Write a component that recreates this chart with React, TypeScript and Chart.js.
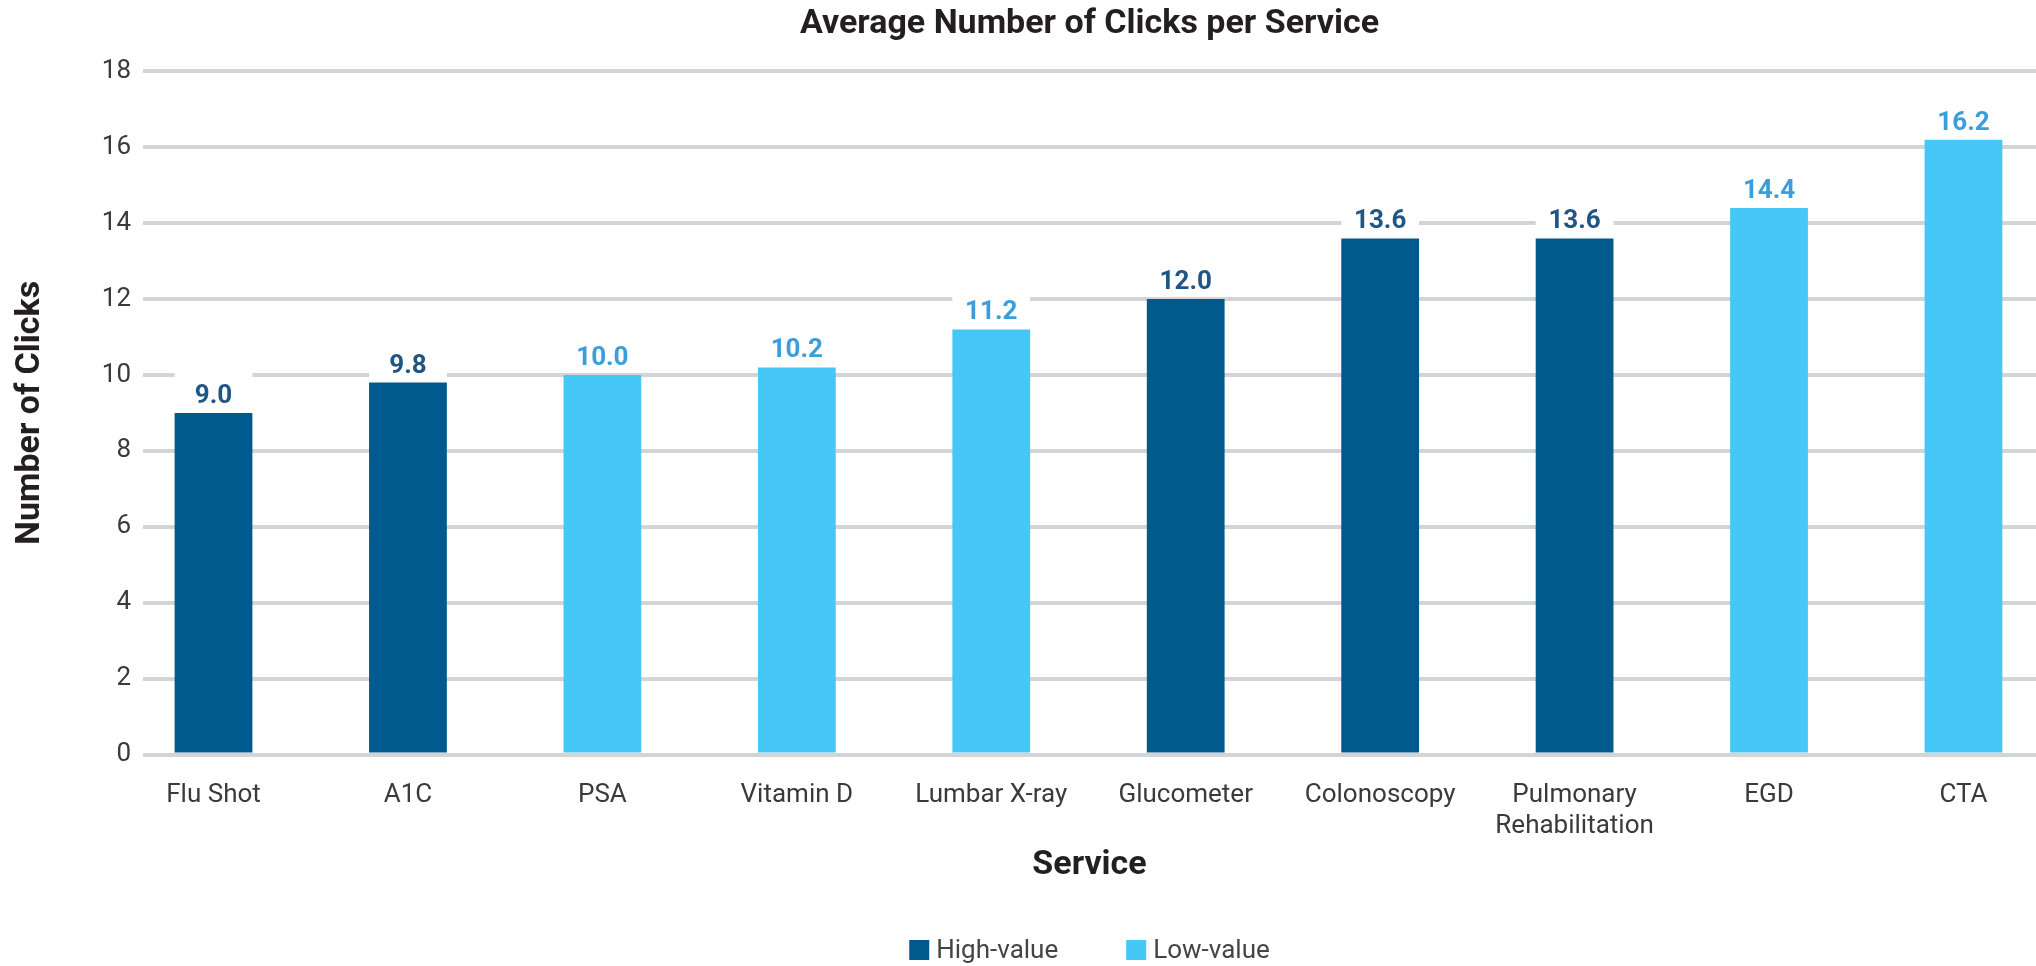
import React, { useEffect, useRef } from 'react';
import { Chart, registerables } from 'chart.js';

Chart.register(...registerables);

// ---- data ----
const chartTitle = 'Average Number of Clicks per Service';
const xTitle = 'Service';
const yTitle = 'Number of Clicks';
const categories: (string | string[])[] = [
  'Flu Shot',
  'A1C',
  'PSA',
  'Vitamin D',
  'Lumbar X-ray',
  'Glucometer',
  'Colonoscopy',
  ['Pulmonary', 'Rehabilitation'],
  'EGD',
  'CTA',
];
const values = [9.0, 9.8, 10.0, 10.2, 11.2, 12.0, 13.6, 13.6, 14.4, 16.2];
const groups = [
  'High-value',
  'High-value',
  'Low-value',
  'Low-value',
  'Low-value',
  'High-value',
  'High-value',
  'High-value',
  'Low-value',
  'Low-value',
];
const seriesNames = ['High-value', 'Low-value'];
const yMin = 0;
const yMax = 18;
const yStep = 2;

// ---- style ----
const barColors = ['#005a8e', '#45c8f5'];
const labelColors = ['#1f5686', '#3a9edc'];
const gridColor = '#d3d4d6';
const textColor = '#3a3a3a';
const titleColor = '#231f20';
const FONT = 'Roboto';
// visible range of the category axis (category centres at integers)
const X_MIN = -0.3626;
const X_MAX = 9.373;

const decorPlugin = {
  id: 'decor',
  afterDatasetsDraw(chart: any) {
    const ctx = chart.ctx;
    chart.data.datasets.forEach((ds: any, di: number) => {
      const meta = chart.getDatasetMeta(di);
      meta.data.forEach((el: any, i: number) => {
        const v = ds.data[i].y;
        const { x, y, width } = el.getProps(['x', 'y', 'width'], true);
        ctx.save();
        ctx.fillStyle = '#ffffff';
        ctx.fillRect(x - width / 2, y - 40, width, 38);
        ctx.font = `bold 26px ${FONT}`;
        ctx.fillStyle = ds.labelColor;
        ctx.textAlign = 'center';
        ctx.textBaseline = 'alphabetic';
        ctx.fillText(v.toFixed(1), x, y - 10);
        ctx.restore();
      });
    });
  },
  afterDraw(chart: any) {
    const ctx = chart.ctx;
    const area = chart.chartArea;
    const cx = (area.left + area.right) / 2;
    ctx.save();
    // title
    ctx.font = `bold 34px ${FONT}`;
    ctx.fillStyle = titleColor;
    ctx.textAlign = 'center';
    ctx.textBaseline = 'middle';
    ctx.fillText(chartTitle, cx, 24);
    // legend
    ctx.font = `26px ${FONT}`;
    const box = 20;
    const gap = 7;
    const spacing = 68;
    const items = chart.data.datasets.map((d: any) => ({
      text: d.label,
      color: d.backgroundColor,
      w: ctx.measureText(d.label).width,
    }));
    let total = 0;
    items.forEach((it: any, i: number) => {
      total += box + gap + it.w + (i > 0 ? spacing : 0);
    });
    let x = cx - total / 2;
    const yc = 950;
    items.forEach((it: any) => {
      ctx.fillStyle = it.color;
      ctx.fillRect(x, yc - box / 2, box, box);
      x += box + gap;
      ctx.fillStyle = '#444444';
      ctx.textAlign = 'left';
      ctx.textBaseline = 'middle';
      ctx.fillText(it.text, x, yc + 1);
      x += it.w + spacing;
    });
    ctx.restore();
  },
};

export default function App() {
  const ref = useRef<HTMLCanvasElement>(null);

  useEffect(() => {
    document.body.style.margin = '0';
    const canvas = ref.current;
    if (!canvas) return;

    const datasets = seriesNames.map((name, s) => ({
      label: name,
      data: values
        .map((v, i) => (groups[i] === name ? { x: i, y: v } : null))
        .filter((p) => p !== null),
      backgroundColor: barColors[s],
      labelColor: labelColors[s],
      barPercentage: 0.4,
      categoryPercentage: 1,
      grouped: false,
    }));

    const chart = new Chart(canvas, {
      type: 'bar',
      data: { datasets: datasets as any },
      options: {
        animation: false,
        responsive: false,
        devicePixelRatio: 1,
        layout: { padding: { top: 71.4, bottom: 80, left: 0, right: 0 } },
        plugins: {
          legend: { display: false },
          title: { display: false },
          tooltip: { enabled: false },
        },
        scales: {
          x: {
            type: 'linear',
            offset: false,
            min: X_MIN,
            max: X_MAX,
            afterBuildTicks: (scale: any) => {
              scale.ticks = categories.map((_, i) => ({ value: i }));
            },
            afterFit: (scale: any) => {
              scale.height = 131.5;
            },
            ticks: {
              autoSkip: false,
              maxRotation: 0,
              minRotation: 0,
              padding: 17,
              color: textColor,
              font: { family: FONT, size: 26 },
              callback: (v: any) => categories[Math.round(Number(v))] as any,
            },
            grid: { display: false, offset: false },
            border: { display: false },
            title: {
              display: true,
              text: xTitle,
              color: titleColor,
              font: { family: FONT, size: 34, weight: 'bold' },
              padding: 0,
            },
          },
          y: {
            type: 'linear',
            min: yMin,
            max: yMax,
            afterFit: (scale: any) => {
              scale.width = 143;
            },
            ticks: {
              stepSize: yStep,
              padding: 12,
              color: textColor,
              font: { family: FONT, size: 26 },
            },
            grid: { color: gridColor, lineWidth: 4, drawTicks: false },
            border: { display: false },
            title: {
              display: true,
              text: yTitle,
              color: titleColor,
              font: { family: FONT, size: 34, weight: 'bold' },
              padding: { top: 10, bottom: 0 },
            },
          },
        },
      } as any,
      plugins: [decorPlugin],
    });

    return () => {
      chart.destroy();
    };
  }, []);

  return (
    <div style={{ width: 2036, height: 966 }}>
      <canvas ref={ref} width={2036} height={966} style={{ display: 'block' }} />
    </div>
  );
}
